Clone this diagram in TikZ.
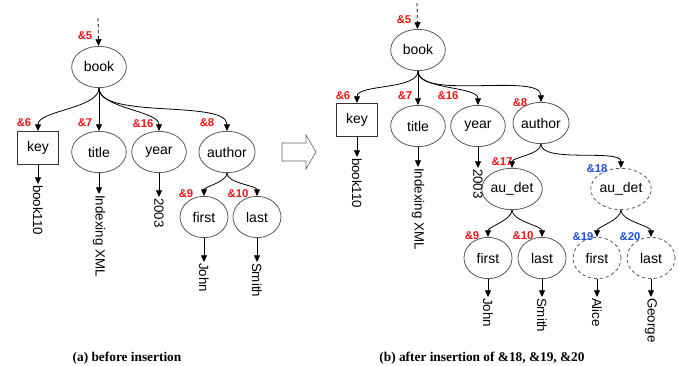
\documentclass[tikz,border=0pt]{standalone}
\usepackage{fontspec}
\setmainfont{Liberation Serif}
\setsansfont{Liberation Sans}
\usetikzlibrary{arrows.meta,shapes.geometric}
\definecolor{idred}{RGB}{240,20,20}
\definecolor{idblue}{RGB}{30,80,215}

\tikzset{every picture/.style={line width=0.6pt}}
\tikzset{
  elem/.style={ellipse,draw=black!65,minimum width=41pt,minimum height=31pt,inner sep=0pt,font=\fontsize{10.5}{12}\sffamily},
  leafel/.style={elem,minimum width=36pt},
  newel/.style={dashed,dash pattern=on 2.5pt off 2pt},
  keybox/.style={rectangle,draw=black!80,minimum width=31pt,minimum height=25pt,inner sep=0pt,font=\fontsize{10.5}{12}\sffamily},
  val/.style={rotate=-90,anchor=west,inner sep=0.5pt,font=\fontsize{10}{12}\sffamily},
  oid/.style={text=idred,inner sep=0pt,font=\fontsize{8.5}{10}\sffamily\bfseries},
  newoid/.style={oid,text=idblue},
  tip/.style={-{Triangle[length=5pt,width=4.5pt]}},
  down/.style={out=90,in=-90,looseness=0.7},
  capt/.style={inner sep=0pt,font=\fontsize{10}{12}\bfseries}
}

\begin{document}
\begin{tikzpicture}[x=0.75pt,y=0.75pt,yscale=-1,xscale=1]
\useasboundingbox (0,0) rectangle (678,366);

%%%%%%%% (a) before insertion
% Ellipse / Rectangle
\node[elem] (bookA) at (99,67) {book};
\node[keybox] (keyA) at (38,148) {key};
\node[elem] (titleA) at (99,152) {title};
\node[elem] (yearA) at (159,152) {year};
\node[elem] (authorA) at (227,152) {author};
\node[leafel] (firstA) at (204,217) {first};
\node[leafel] (lastA) at (257,217) {last};
\coordinate (inA) at (98,18);

% Text Node
\node[val] (v1A) at (38,184) {book110};
\node[val] (v2A) at (99,194) {Indexing XML};
\node[val] (v3A) at (159,197) {2003};
\node[val] (v4A) at (204,262) {John};
\node[val] (v5A) at (257,262) {Smith};

% Text Node
\node[oid] (o5A) at (85,36) {\&5};
\node[oid] (o6A) at (24,123) {\&6};
\node[oid] (o7A) at (85,123) {\&7};
\node[oid] (o16A) at (143,124) {\&16};
\node[oid] (o8A) at (207,123) {\&8};
\node[oid] (o9A) at (186,194) {\&9};
\node[oid] (o10A) at (238,194) {\&10};

%Curve Lines
\draw[tip,newel] (inA) -- (bookA);
\draw[tip] (bookA.south) to[down] (keyA.north);
\draw[tip] (bookA.south) -- (titleA.north);
\draw[tip] (bookA.south) to[down] (yearA.north);
\draw[tip] (bookA.south) to[down,looseness=0.6] (authorA.north);
\draw[tip] (authorA.south) to[down] (firstA.north);
\draw[tip] (authorA.south) to[down] (lastA.north);
\draw[tip] (keyA) -- (v1A);
\draw[tip] (titleA) -- (v2A);
\draw[tip] (yearA) -- (v3A);
\draw[tip] (firstA) -- (v4A);
\draw[tip] (lastA) -- (v5A);

% Text Node
\node[capt] (captA) at (127,358) {(a) before insertion};

%Right Arrow
\draw[draw=black!60,line width=0.5pt] (282,143) -- (306,143) -- (306,135) -- (316,152) -- (306,169) -- (306,161) -- (282,161) -- cycle;

%%%%%%%% (b) after insertion
% Ellipse / Rectangle
\node[elem] (bookB) at (418,50) {book};
\node[keybox] (keyB) at (357,120) {key};
\node[elem] (titleB) at (418,126) {title};
\node[elem] (yearB) at (478,126) {year};
\node[elem] (authorB) at (541,123) {author};
\node[elem] (audetB) at (512,189) {au\_det};
\node[elem,newel] (audetN) at (621,189) {au\_det};
\node[leafel] (firstB) at (488,258) {first};
\node[leafel] (lastB) at (542,258) {last};
\node[leafel,newel] (firstN) at (597,258) {first};
\node[leafel,newel] (lastN) at (651,258) {last};
\coordinate (inB) at (417,3);

% Text Node
\node[val] (v1B) at (357,157) {book110};
\node[val] (v2B) at (418,167) {Indexing XML};
\node[val] (v3B) at (478,168) {2003};
\node[val] (v4B) at (488,297) {John};
\node[val] (v5B) at (542,297) {Smith};
\node[val] (v6B) at (597,297) {Alice};
\node[val] (v7B) at (651,297) {George};

% Text Node
\node[oid] (o5B) at (404,20) {\&5};
\node[oid] (o6B) at (343,96) {\&6};
\node[oid] (o7B) at (405,96) {\&7};
\node[oid] (o16B) at (448,96) {\&16};
\node[oid] (o8B) at (520,103) {\&8};
\node[oid] (o17B) at (502,162) {\&17};
\node[newoid] (o18B) at (597,169) {\&18};
\node[oid] (o9B) at (472,236) {\&9};
\node[oid] (o10B) at (523,236) {\&10};
\node[newoid] (o19B) at (583,237) {\&19};
\node[newoid] (o20B) at (630,237) {\&20};

%Curve Lines
\draw[tip,newel] (inB) -- (bookB);
\draw[tip] (bookB.south) to[down] (keyB.north);
\draw[tip] (bookB.south) -- (titleB.north);
\draw[tip] (bookB.south) to[down] (yearB.north);
\draw[tip] (bookB.south) to[down,looseness=0.6] (authorB.north);
\draw[tip] (authorB.south) to[down] (audetB.north);
\draw[tip] (authorB.south) to[down,looseness=0.6] (audetN.north);
\draw[tip] (audetB.south) to[down] (firstB.north);
\draw[tip] (audetB.south) to[down] (lastB.north);
\draw[tip] (audetN.south) to[down] (firstN.north);
\draw[tip] (audetN.south) to[down] (lastN.north);
\draw[tip] (keyB) -- (v1B);
\draw[tip] (titleB) -- (v2B);
\draw[tip] (yearB) -- (v3B);
\draw[tip] (firstB) -- (v4B);
\draw[tip] (lastB) -- (v5B);
\draw[tip] (firstN) -- (v6B);
\draw[tip] (lastN) -- (v7B);

% Text Node
\node[capt] (captB) at (482,358) {(b) after insertion of \&18, \&19, \&20};

\end{tikzpicture}
\end{document}
